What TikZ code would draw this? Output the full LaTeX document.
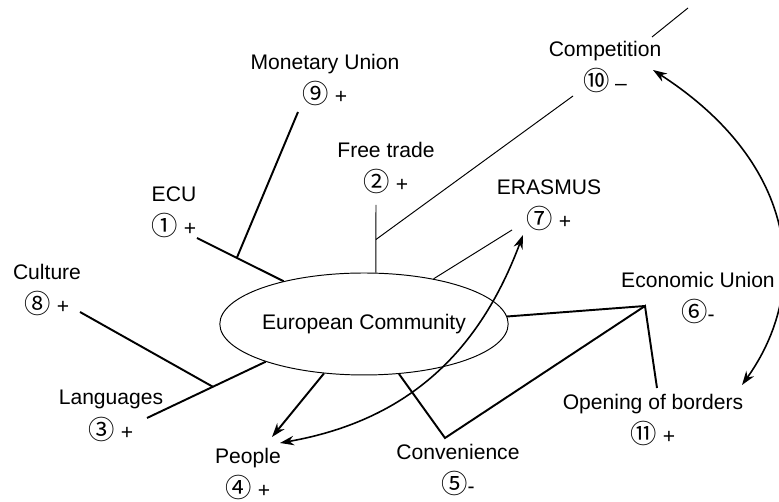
\documentclass[tikz,border=0pt]{standalone}
\usepackage{fontspec}
\setmainfont{Liberation Sans}
\newfontfamily\circfont{Noto Sans CJK SC}
\usetikzlibrary{shapes.geometric}
\usetikzlibrary{arrows.meta}
\usetikzlibrary{calc}
\tikzset{ % styles of the map
    item/.style={align=center,font=\fontsize{12}{19.5}\selectfont,inner sep=1pt},
    heavy/.style={line width=1.1pt},
    light/.style={line width=0.55pt},
    loop arrow/.style={line width=0.9pt,{Stealth[length=2.8mm,width=1.9mm]}-{Stealth[length=2.8mm,width=1.9mm]}},
    tip/.style={-{Stealth[length=2.8mm,width=1.9mm]}}
}
\newcommand\nb[1]{{\circfont\fontsize{15}{15}\selectfont #1}}

\begin{document}
\begin{tikzpicture}[x=0.02cm,y=-0.02cm]
            \useasboundingbox (0,0) rectangle (779,502);
            \node[draw,ellipse,light,minimum width=5.64cm,minimum height=2.04cm,inner sep=0pt,font=\fontsize{12}{14}\selectfont] (ec) at (364,324) {European Community};
            \node[item] (mon) at (325,80) {Monetary Union\\\nb{⑨} +};
            \node[item] (ecu) at (174,212) {ECU\\\nb{①} +};
            \node[item] (free) at (386,168) {Free trade\\\nb{②} +};
            \node[item] (comp) at (605,67) {Competition\\\nb{⑩} –};
            \node[item] (eras) at (549,205) {ERASMUS\\\nb{⑦} +};
            \node[item] (cult) at (47,290) {Culture\\\nb{⑧} +};
            \node[item] (lang) at (111,416) {Languages\\\nb{③} +};
            \node[item] (peop) at (248,474) {People\\\nb{④} +};
            \node[item] (conv) at (458,470) {Convenience\\\nb{⑤}-};
            \node[item] (econ) at (698,298) {Economic Union\\\nb{⑥}-};
            \node[item] (open) at (653,420) {Opening of borders\\\nb{⑪} +};
            % branches to the left
            \draw[heavy] (197,238) coordinate (ecu-end) -- (ec.152.6);
            \draw[heavy] (298,112) coordinate (mon-end) -- ($(ecu-end)!0.46!(ec.152.6)$);
            \draw[heavy] (147,418) coordinate (lang-end) -- (ec.201.2);
            \draw[heavy] (80,312) coordinate (cult-end) -- ($(lang-end)!0.555!(ec.201.2)$);
            % branches to the top
            \draw[light] (376,205) coordinate (free-end) -- (ec.77.8);
            \draw[light] ($(free-end)!0.51!(ec.77.8)$) -- (573,96) coordinate (comp-end);
            \draw[light] (652,37) coordinate (comp-out) -- (688,8);
            \draw[light] (ec.33.7) -- (512,230) coordinate (eras-end);
            % branches to the bottom and right
            \draw[heavy,tip] (ec.231.2) -- (272,437) coordinate (peop-end);
            \draw[heavy] (ec.305.2) -- (445,438) coordinate (conv-end) -- (645,306) coordinate (econ-end) -- (657,388) coordinate (open-end);
            \draw[heavy] (ec.3.7) -- (econ-end);
            % feedback arrows
            \draw[loop arrow] (280,443) coordinate (peop-in) .. controls (410,420) and (480,350) .. (523,235) coordinate (eras-in);
            \draw[loop arrow] (653,70) coordinate (comp-in) .. controls (800,165) and (810,290) .. (742,385) coordinate (open-in);
\end{tikzpicture}
\end{document}
